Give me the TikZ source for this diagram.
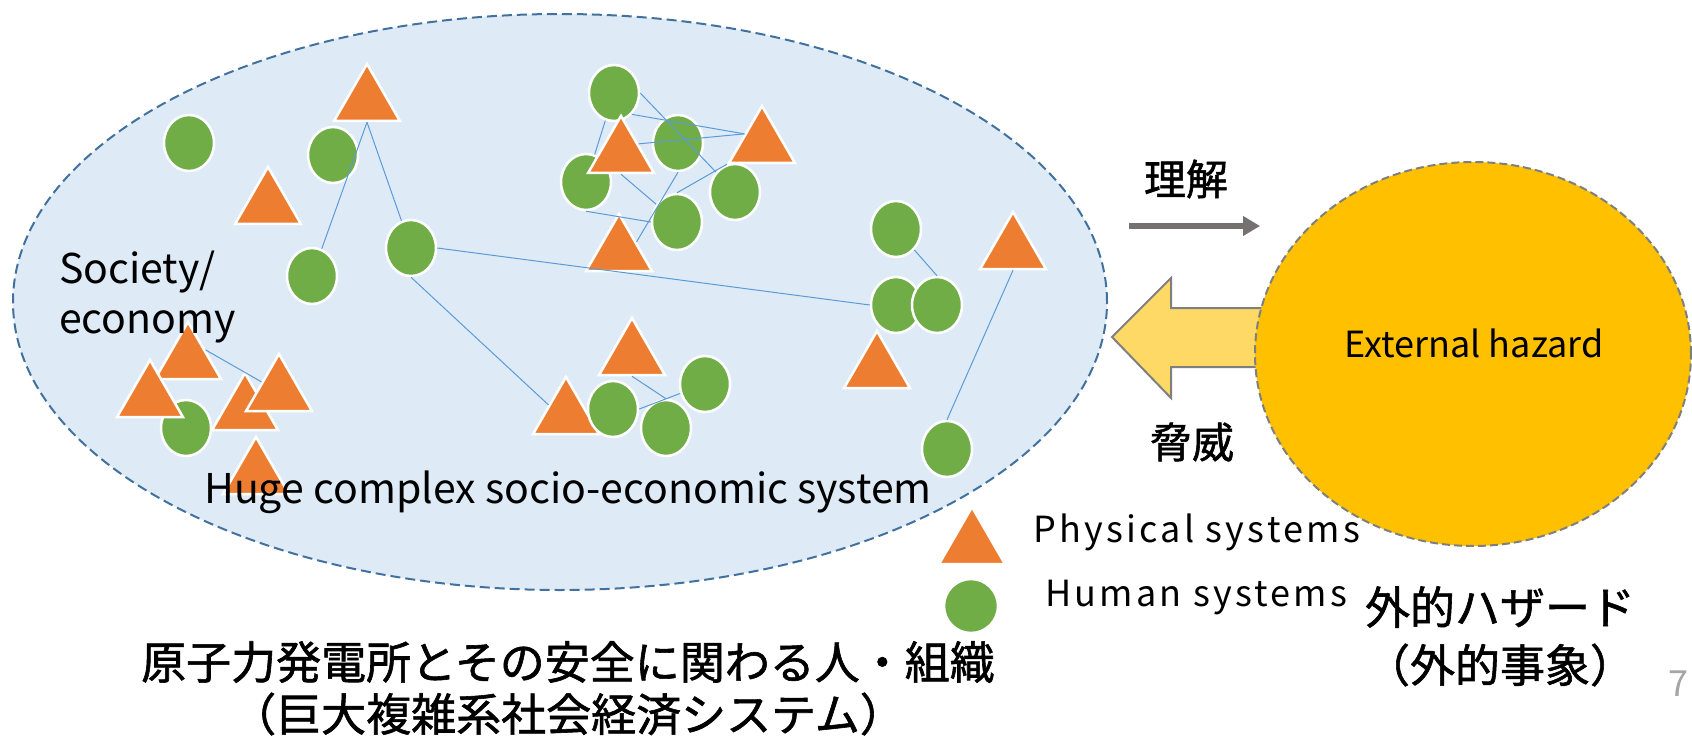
\documentclass[tikz,border=0pt]{standalone}
\usepackage{fontspec}
\setmainfont{Noto Sans CJK JP}
\newfontfamily\jpfont{Noto Sans CJK JP}[FakeBold=1.3]
\newfontfamily\legfont{Noto Sans CJK JP}[LetterSpace=9]
\usetikzlibrary{shapes.geometric,arrows.meta}
\definecolor{bgfill}{HTML}{DEEBF7}
\definecolor{bgline}{HTML}{41719C}
\definecolor{hgreen}{HTML}{70AD47}
\definecolor{porange}{HTML}{ED7D31}
\definecolor{linkblue}{HTML}{5B9BD5}
\definecolor{hazardc}{HTML}{FFC000}
\definecolor{threatc}{HTML}{FFD966}
\definecolor{arrowgray}{HTML}{767171}
\definecolor{dgray}{HTML}{7F7F7F}
\tikzset{
 human/.style={ellipse, fill=hgreen, draw=white, line width=2.5pt, minimum width=50pt, minimum height=56pt, inner sep=0pt},
 phys/.style={regular polygon, regular polygon sides=3, fill=porange, draw=white, line width=2.5pt, minimum size=76pt, inner sep=0pt},
 link/.style={draw=linkblue, line width=1pt},
 lat/.style={font=\fontsize{41}{49}\selectfont, inner sep=0pt},
 leg/.style={font=\legfont\fontsize{36}{42}\selectfont, inner sep=0pt, anchor=west},
 jp/.style={font=\jpfont\fontsize{45}{52}\selectfont, inner sep=0pt},
 jps/.style={font=\jpfont\fontsize{42}{50}\selectfont, inner sep=0pt},
}
\begin{document}
\begin{tikzpicture}[x=1pt,y=-1pt]
\useasboundingbox (0,0) rectangle (1692,738);
% big system ellipse
\node[ellipse, fill=bgfill, draw=bgline, line width=2pt, dash pattern=on 10pt off 5pt, minimum width=1094pt, minimum height=576pt, inner sep=0pt] (sys) at (560,302) {};
% threat arrow
\draw[fill=threatc, draw=dgray, line width=2pt] (1112,337) -- (1171,278) -- (1171,308) -- (1300,308) -- (1300,367) -- (1171,367) -- (1171,398) -- cycle;
% hazard
\node[ellipse, fill=hazardc, draw=dgray, line width=2pt, dash pattern=on 8pt off 4pt, minimum width=436pt, minimum height=384pt, inner sep=0pt] (haz) at (1473,354) {};
\node[font=\fontsize{36}{42}\selectfont, inner sep=0pt] (hazt) at (1474,343) {External hazard};
% understanding arrow
\coordinate (ua) at (1129,226);
\coordinate (ub) at (1260,226);
\draw[arrowgray, line width=6pt, -{Triangle[length=17pt,width=19pt]}] (ua) -- (ub);
\node[jps] (rikai) at (1186,179) {理解};
\node[jps] (kyoi) at (1192,442) {脅威};

% left group
\node[human] (C1) at (189,143) {};
\node[human] (C2) at (333,155) {};
\node[human] (C3) at (312,276) {};
\node[human] (C4) at (411,248) {};
\node[phys] (T1) at (367,102) {};
\node[phys] (T2) at (268,205) {};
\node[human] (C5) at (186,428) {};
\node[phys] (T3) at (188,360) {};
\node[phys] (T4) at (150,398) {};
\node[phys] (T5) at (245,411) {};
\node[phys] (T6) at (279,392) {};
\node[phys] (T7) at (256,475) {};
% upper middle cluster
\node[human] (C6) at (614,93) {};
\node[human] (C7) at (586,182) {};
\node[phys] (T9) at (621,154) {};
\node[human] (C8) at (678,143) {};
\node[human] (C9) at (735,192) {};
\node[human] (C10) at (677,222) {};
\node[phys] (T10) at (762,144) {};
\node[phys] (T11) at (619,252) {};
% lower middle cluster
\node[phys] (T14) at (632,356) {};
\node[phys] (T8) at (566,415) {};
\node[human] (C15) at (613,409) {};
\node[human] (C16) at (666,428) {};
\node[human] (C17) at (705,384) {};
% right cluster
\node[human] (C12) at (896,229) {};
\node[phys] (T12) at (877,369) {};
\node[human] (C11) at (896,305) {};
\node[human] (C13) at (937,305) {};
\node[phys] (T13) at (1013,250) {};
\node[human] (C14) at (947,449) {};

% links
\draw[link] (T1.side 2) -- (C3);
\draw[link] (T1.side 2) -- (C4);
\draw[link] (C4.east) -- (C11.west);
\draw[link] (C4.south) -- (T8.side 1);
\draw[link] (T3.side 3) -- (T6.side 1);
\draw[link] (C6) -- (C7);
\draw[link] (C6.east) -- (C9);
\draw[link] (C6.-50) -- (T10.side 1);
\draw[link] (T9.side 3) -- (T10.side 1);
\draw[link] (T9.side 2) -- (C10);
\draw[link] (C7.south) -- (C10.west);
\draw[link] (C8.south) -- (T11.side 3);
\draw[link] (T10.corner 2) -- (C10.north);
\draw[link] (C12) -- (C13.north);
\draw[link] (T13.side 2) -- (C14.north);
\draw[link] (T14.side 2) -- (C16.north);
\draw[link] (C15.east) -- (C17);

% texts in system
\node[lat, anchor=base west] (soc1) at (59,283) {Society/};
\node[lat, anchor=base west] (soc2) at (59,333) {economy};
\node[lat, anchor=base] (huge) at (568,503) {Huge complex socio-economic system};

% legend
\node[phys] (LT) at (972,545) {};
\node[human, minimum width=54pt, minimum height=54pt] (LC) at (971,606) {};
\node[leg] (lphys) at (1033,532) {Physical systems};
\node[leg] (lhum) at (1045,598) {Human systems};

% captions
\node[jp] (gai1) at (1500,607) {外的ハザード};
\node[jp] (gai2) at (1500,665) {（外的事象）};
\node[jp] (cap1) at (568,662) {原子力発電所とその安全に関わる人・組織};
\node[jp] (cap2) at (568,714) {（巨大複雑系社会経済システム）};
\node[font=\fontsize{36}{42}\selectfont, text=dgray!70, inner sep=0pt, anchor=west] (pg) at (1668,684) {7};
\end{tikzpicture}
\end{document}
